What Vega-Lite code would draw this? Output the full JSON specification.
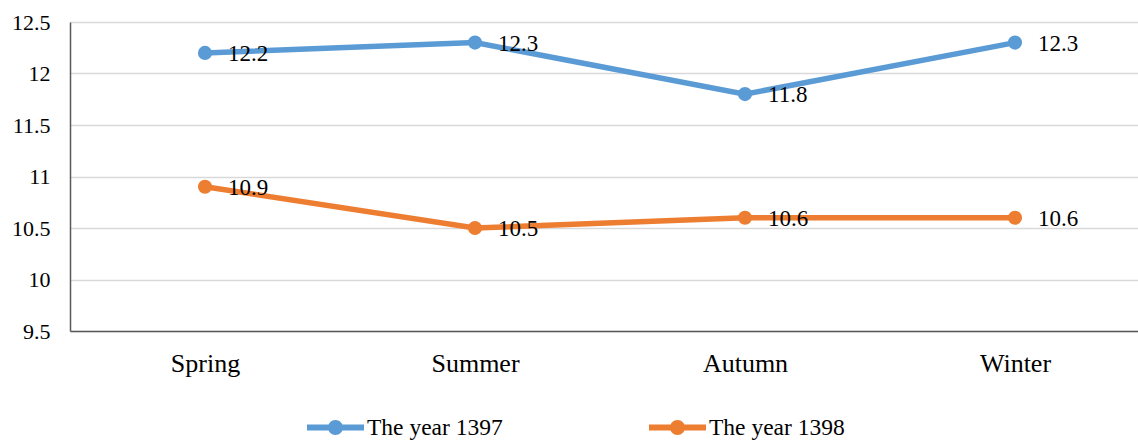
{
  "$schema": "https://vega.github.io/schema/vega-lite/v6.json",
  "width": 1080,
  "height": 309,
  "autosize": {"type": "none"},
  "padding": {"left": 70, "top": 22, "right": 0, "bottom": 110},
  "config": {"view": {"stroke": null}, "font": "Liberation Serif, Times New Roman, serif"},
  "data": {
    "values": [
      {"season": "Spring", "series": "The year 1397", "value": 12.2},
      {"season": "Summer", "series": "The year 1397", "value": 12.3},
      {"season": "Autumn", "series": "The year 1397", "value": 11.8},
      {"season": "Winter", "series": "The year 1397", "value": 12.3},
      {"season": "Spring", "series": "The year 1398", "value": 10.9},
      {"season": "Summer", "series": "The year 1398", "value": 10.5},
      {"season": "Autumn", "series": "The year 1398", "value": 10.6},
      {"season": "Winter", "series": "The year 1398", "value": 10.6}
    ]
  },
  "encoding": {
    "x": {
      "field": "season", "type": "nominal", "sort": ["Spring", "Summer", "Autumn", "Winter"],
      "scale": {"type": "point", "padding": 0.5},
      "axis": {"title": null, "labelAngle": 0, "ticks": false, "grid": false, "domainColor": "#595959", "domainWidth": 1.5, "labelFontSize": 26, "labelColor": "black", "labelPadding": 19, "labelFont": "Liberation Serif, Times New Roman, serif"}
    },
    "y": {
      "field": "value", "type": "quantitative",
      "scale": {"domain": [9.5, 12.5], "nice": false, "zero": false},
      "axis": {"title": null, "values": [9.5, 10, 10.5, 11, 11.5, 12, 12.5], "labelExpr": "'' + datum.value", "ticks": false, "domainColor": "#595959", "domainWidth": 1.5, "gridColor": "#d9d9d9", "gridWidth": 1.5, "labelFontSize": 22, "labelColor": "black", "labelPadding": 20, "labelFont": "Liberation Serif, Times New Roman, serif"}
    }
  },
  "layer": [
    {
      "mark": {"type": "line", "strokeWidth": 5.5},
      "encoding": {
        "color": {
          "field": "series", "type": "nominal",
          "scale": {"domain": ["The year 1397", "The year 1398"], "range": ["#5B9BD5", "#ED7D31"]},
          "legend": {
            "title": null, "orient": "none", "legendX": 237, "legendY": 377, "direction": "horizontal",
            "symbolType": "M-1,-0.105L1,-0.105L1,0.105L-1,0.105Z M0.263,0A0.263,0.263 0 1,1 -0.263,0A0.263,0.263 0 1,1 0.263,0Z",
            "symbolSize": 3249, "symbolStrokeWidth": 0, "symbolOpacity": 1,
            "labelFontSize": 23.5, "labelColor": "black", "labelFont": "Liberation Serif, Times New Roman, serif",
            "columnPadding": 146, "labelOffset": 3,
            "encode": {"symbols": {"update": {"fill": {"scale": "color", "field": "value"}, "stroke": {"value": "transparent"}}}}
          }
        }
      }
    },
    {
      "mark": {"type": "point", "filled": true, "size": 200, "opacity": 1},
      "encoding": {
        "color": {"field": "series", "type": "nominal"}
      }
    },
    {
      "mark": {"type": "text", "align": "left", "baseline": "middle", "dx": 23, "dy": 1, "fontSize": 23, "color": "black", "font": "Liberation Serif, Times New Roman, serif"},
      "encoding": {"text": {"field": "value", "type": "quantitative", "format": ".1f"}}
    }
  ]
}
